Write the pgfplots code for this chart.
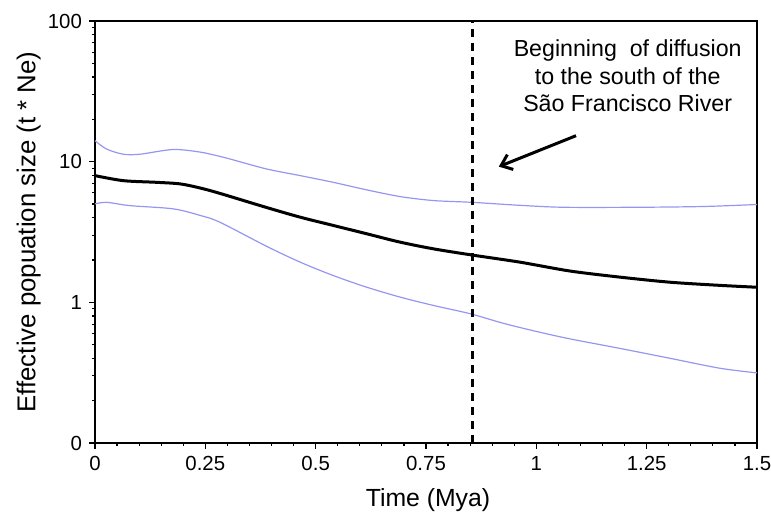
\documentclass[border=0pt]{standalone}
\usepackage{pgfplots}
\pgfplotsset{compat=1.18}
\usepackage{fontspec}
\setmainfont{Liberation Sans}
\usetikzlibrary{arrows.meta}

\definecolor{hpd}{RGB}{150,150,240}

\begin{document}
\begin{tikzpicture}
  % fix the page to the reference proportions (1px = 0.5pt)
  \useasboundingbox (0pt,0pt) rectangle (385.5pt,259pt);
  \begin{axis}[
    at={(47.5pt,37.5pt)}, anchor=south west,
    scale only axis,
    width=331pt, height=211pt,
    ymode=log,
    xmin=0, xmax=1.5, ymin=0.1, ymax=100,
    xtick={0,0.25,0.5,0.75,1,1.25,1.5},
    xticklabels={0,0.25,0.5,0.75,1,1.25,1.5},
    minor x tick num=4,
    ytick={0.1,1,10,100},
    yticklabels={0,1,10,100},
    tick pos=left,
    tick align=outside,
    major tick length=3pt,
    minor tick length=1.5pt,
    tick style={black, line width=0.6pt},
    axis line style={line width=0.6pt},
    /pgf/number format/assume math mode=true,
    ticklabel style={font=\fontsize{10.2}{12.2}\selectfont},
    xlabel={Time (Mya)},
    ylabel={Effective popuation size (t * Ne)},
    xlabel style={font=\fontsize{12.4}{15}\selectfont,
      at={(axis description cs:0.503,-0.135)}, anchor=center},
    ylabel style={font=\fontsize{12.9}{15}\selectfont,
      at={(axis description cs:-0.1,0.5)}, anchor=center},
    clip=false,
  ]
    % upper 95% HPD
    \addplot[hpd, line width=0.6pt, smooth] coordinates {
      (0,14.1) (0.026,12.3) (0.064,11.3) (0.102,11.3) (0.177,12.2)
      (0.238,11.7) (0.283,10.9) (0.313,10.3) (0.389,8.87) (0.465,7.96)
      (0.540,7.13) (0.616,6.30) (0.691,5.65) (0.767,5.29) (0.854,5.14)
      (0.96,4.90) (1.061,4.74) (1.228,4.74) (1.378,4.80) (1.5,4.96)};
    % median
    \addplot[black, line width=1.5pt, smooth] coordinates {
      (0,7.96) (0.064,7.33) (0.140,7.13) (0.193,6.95) (0.238,6.5)
      (0.283,5.95) (0.389,4.72) (0.465,4.03) (0.540,3.52)
      (0.616,3.07) (0.691,2.68) (0.767,2.40) (0.854,2.17) (0.963,1.93)
      (1.076,1.67) (1.190,1.51) (1.303,1.39) (1.416,1.32) (1.5,1.28)};
    % lower 95% HPD
    \addplot[hpd, line width=0.6pt, smooth] coordinates {
      (0,5.01) (0.026,5.14) (0.079,4.87) (0.177,4.62) (0.238,4.15)
      (0.283,3.71) (0.389,2.50) (0.465,1.93) (0.540,1.55)
      (0.616,1.28) (0.691,1.09) (0.767,0.95) (0.85,0.83) (0.925,0.71)
      (1.001,0.62) (1.076,0.55) (1.190,0.47) (1.303,0.40) (1.416,0.34)
      (1.5,0.315)};
    % start of diffusion
    \addplot[black, line width=1.5pt, dash pattern=on 4pt off 3pt] coordinates {
      (0.855,0.1) (0.855,100)};

    \draw[line width=1.5pt, -{Straight Barb[length=5pt,width=8pt]}]
      (axis cs:1.090,15.3) -- (axis cs:0.915,9.22);
    \node[align=center, font=\fontsize{11.6}{13.8}\selectfont]
      at (axis cs:1.207,40.7)
      {Beginning\ \ of diffusion\\to the south of the\\São Francisco River};
  \end{axis}
\end{tikzpicture}
\end{document}
